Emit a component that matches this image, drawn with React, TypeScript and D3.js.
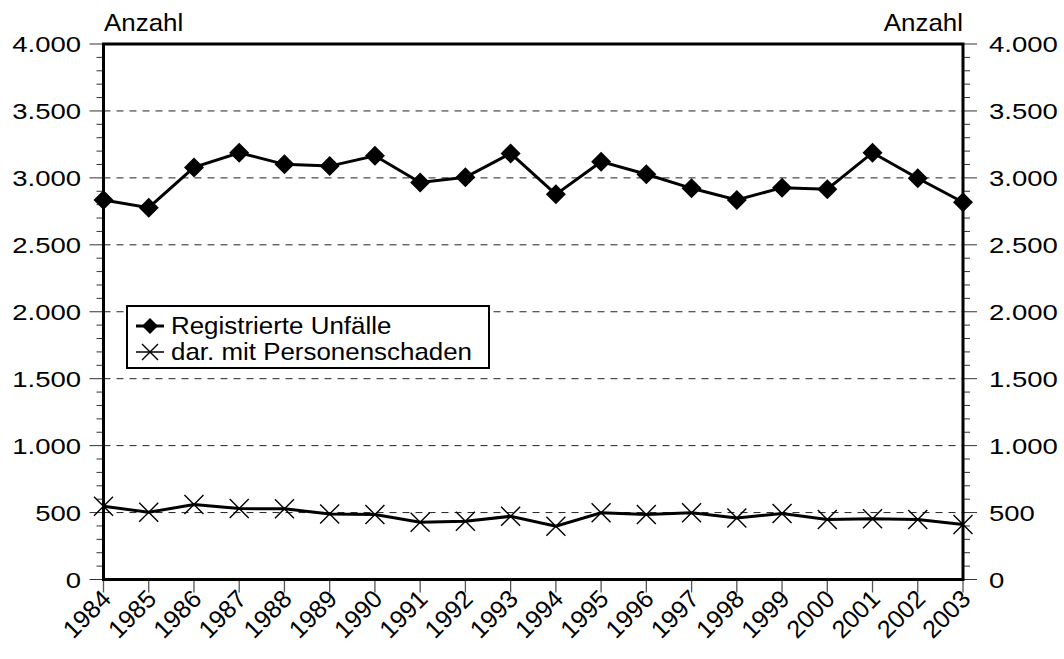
import React from "react";
import * as d3 from "d3";

const years = ["1984","1985","1986","1987","1988","1989","1990","1991","1992","1993","1994","1995","1996","1997","1998","1999","2000","2001","2002","2003"];
const registrierteUnfaelle = [2834, 2777, 3078, 3188, 3101, 3088, 3165, 2966, 3004, 3183, 2877, 3121, 3027, 2922, 2835, 2927, 2915, 3188, 2997, 2818];
const mitPersonenschaden = [547, 502, 560, 530, 528, 490, 485, 428, 435, 472, 398, 498, 485, 498, 460, 493, 448, 453, 448, 410];
const yTicks = [0, 500, 1000, 1500, 2000, 2500, 3000, 3500, 4000];
const yMinorTicks = d3.range(0, 4001, 100);
const seriesNames = ["Registrierte Unfälle", "dar. mit Personenschaden"];
const axisTitle = "Anzahl";

const W = 1064, H = 659;
const L = 103.5, R = 963, T = 44, B = 579.5;
const FONT = "'Liberation Sans', Arial, sans-serif";

const fmt = (v: number) => {
  if (v === 0) return "0";
  const th = Math.floor(v / 1000);
  const rest = v % 1000;
  return th > 0 ? `${th}.${String(rest).padStart(3, "0")}` : String(rest);
};

function Diamond({ x, y, r }: { x: number; y: number; r: number }) {
  return <path d={`M${x},${y - r}L${x + r},${y}L${x},${y + r}L${x - r},${y}Z`} fill="#000" />;
}
function Cross({ x, y, r }: { x: number; y: number; r: number }) {
  return (
    <path d={`M${x - r},${y - r}L${x + r},${y + r}M${x - r},${y + r}L${x + r},${y - r}`} stroke="#000" strokeWidth={1.4} fill="none" />
  );
}

function SText({ x, y, sx, size, anchor, children }: { x: number; y: number; sx: number; size: number; anchor: string; children: React.ReactNode }) {
  return (
    <text transform={`translate(${x},${y}) scale(${sx},1)`} fontSize={size} textAnchor={anchor} fill="#000">{children}</text>
  );
}

export default function App() {
  const x = d3.scalePoint<string>().domain(years).range([L, R]);
  const y = d3.scaleLinear().domain([0, 4000]).range([B, T]);
  const line = d3.line<number>().x((_, i) => x(years[i])!).y((d) => y(d));

  const lgX = 127, lgY = 306, lgW = 362, lgH = 62;
  const row1 = 334, row2 = 360;

  return (
    <svg width={W} height={H} style={{ position: "absolute", left: 0, top: 0, background: "#fff" }} fontFamily={FONT}>
      <rect width={W} height={H} fill="#fff" />
      {yTicks.filter((t) => t > 0 && t < 4000).map((t) => (
        <line key={"g" + t} x1={L} x2={R} y1={y(t)} y2={y(t)} stroke="#222" strokeWidth={1} strokeDasharray="7,6" />
      ))}
      {yMinorTicks.map((t) => {
        const major = t % 500 === 0;
        return (
          <g key={"m" + t}>
            <line x1={L - (major ? 14 : 7)} x2={L} y1={y(t)} y2={y(t)} stroke="#333" strokeWidth={1} />
            <line x1={R} x2={R + (major ? 14 : 7)} y1={y(t)} y2={y(t)} stroke="#333" strokeWidth={1} />
          </g>
        );
      })}
      {years.map((yr) => (
        <line key={"xt" + yr} x1={x(yr)} x2={x(yr)} y1={B} y2={B + 13} stroke="#555" strokeWidth={1.3} />
      ))}
      <rect x={L} y={T} width={R - L} height={B - T} fill="none" stroke="#000" strokeWidth={3} />
      {yTicks.map((t) => (
        <g key={"yl" + t}>
          <SText x={81} y={y(t) + 8} sx={1.25} size={22} anchor="end">{fmt(t)}</SText>
          <SText x={989} y={y(t) + 8} sx={1.25} size={22} anchor="start">{fmt(t)}</SText>
        </g>
      ))}
      <SText x={104} y={30.5} sx={1.08} size={24} anchor="start">{axisTitle}</SText>
      <SText x={963} y={30.5} sx={1.08} size={24} anchor="end">{axisTitle}</SText>
      {years.map((yr) => (
        <text key={"xl" + yr} fontSize={25} textAnchor="end" transform={`translate(${x(yr)! + 9},${B + 21}) rotate(-45)`}>{yr}</text>
      ))}
      <path d={line(mitPersonenschaden)!} fill="none" stroke="#000" strokeWidth={3} />
      {mitPersonenschaden.map((v, i) => (
        <Cross key={"c" + i} x={x(years[i])!} y={y(v)} r={9.5} />
      ))}
      <path d={line(registrierteUnfaelle)!} fill="none" stroke="#000" strokeWidth={3} />
      {registrierteUnfaelle.map((v, i) => (
        <Diamond key={"d" + i} x={x(years[i])!} y={y(v)} r={10} />
      ))}
      <rect x={lgX} y={lgY} width={lgW} height={lgH} fill="#fff" stroke="#000" strokeWidth={2} />
      <line x1={136} x2={164} y1={row1 - 8} y2={row1 - 8} stroke="#000" strokeWidth={3} />
      <Diamond x={150} y={row1 - 8} r={8} />
      <SText x={171} y={row1} sx={1.08} size={24} anchor="start">{seriesNames[0]}</SText>
      <line x1={136} x2={164} y1={row2 - 8} y2={row2 - 8} stroke="#000" strokeWidth={1.5} />
      <Cross x={150} y={row2 - 8} r={8} />
      <SText x={171} y={row2} sx={1.08} size={24} anchor="start">{seriesNames[1]}</SText>
    </svg>
  );
}
